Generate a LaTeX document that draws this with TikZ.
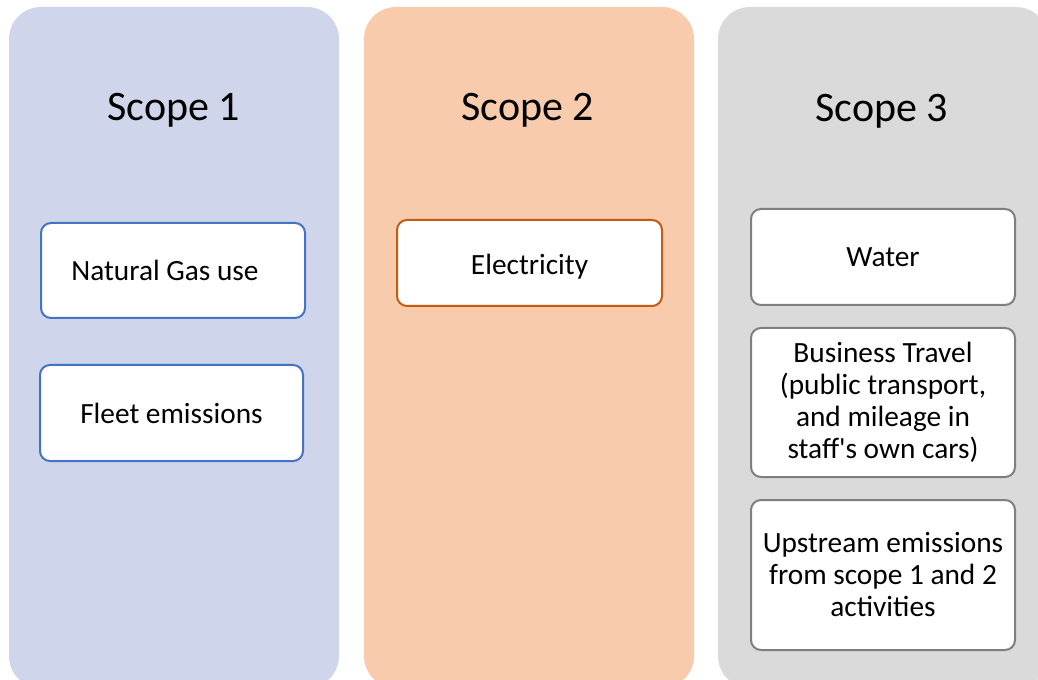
\documentclass[tikz,border=0pt]{standalone}
\usepackage{fontspec}
\setmainfont{Carlito}
\usepackage{tikz}

\definecolor{scopeblue}{HTML}{CFD5EA}
\definecolor{scopeorange}{HTML}{F8CBAD}
\definecolor{scopegrey}{HTML}{DADADA}
\definecolor{lineblue}{HTML}{4472C4}
\definecolor{lineorange}{HTML}{C55A11}
\definecolor{linegrey}{HTML}{7F7F7F}

\tikzset{
  scopetitle/.style={font=\fontsize{31.5}{36}\selectfont},
  itembox/.style={draw, fill=white, line width=1.5pt, rounded corners=7.5pt,
    align=center, inner sep=2pt, font=\fontsize{22}{24}\selectfont}
}

\begin{document}
\begin{tikzpicture}[x=0.75pt,y=-0.75pt]
\clip (0,0) rectangle (1038,680);
\foreach \c/\xl in {scopeblue/9,scopeorange/364,scopegrey/718}{
	\fill[\c,rounded corners=24pt] (\xl,7) rectangle ++(330,681);
	}

\node[scopetitle] (title1) at (174,110) {Scope 1};
\node[scopetitle] (title2) at (528,110) {Scope 2};
\node[scopetitle] (title3) at (882,111) {Scope 3};

\node[itembox,draw=lineblue,minimum width=198pt,minimum height=71.25pt] (gas) at (173,270.5) {Natural Gas use\hspace*{12pt}};
\node[itembox,draw=lineblue,minimum width=197.25pt,minimum height=72pt] (fleet) at (171.5,413) {Fleet emissions};

\node[itembox,draw=lineorange,minimum width=198.75pt,minimum height=64.5pt] (elec) at (529.5,263) {\raisebox{-8.5pt}[0pt][0pt]{Electricity}};

\node[itembox,draw=linegrey,minimum width=198pt,minimum height=72pt] (water) at (883,257) {Water};
\node[itembox,draw=linegrey,minimum width=198pt,minimum height=111.75pt] (travel) at (883,402.5) {Business Travel\\(public transport,\\and mileage in\\staff\textquotesingle s own cars)};
\node[itembox,draw=linegrey,minimum width=198pt,minimum height=112.5pt] (upstream) at (883,575) {Upstream emissions\\from scope 1 and 2\\activities};
\end{tikzpicture}
\end{document}
